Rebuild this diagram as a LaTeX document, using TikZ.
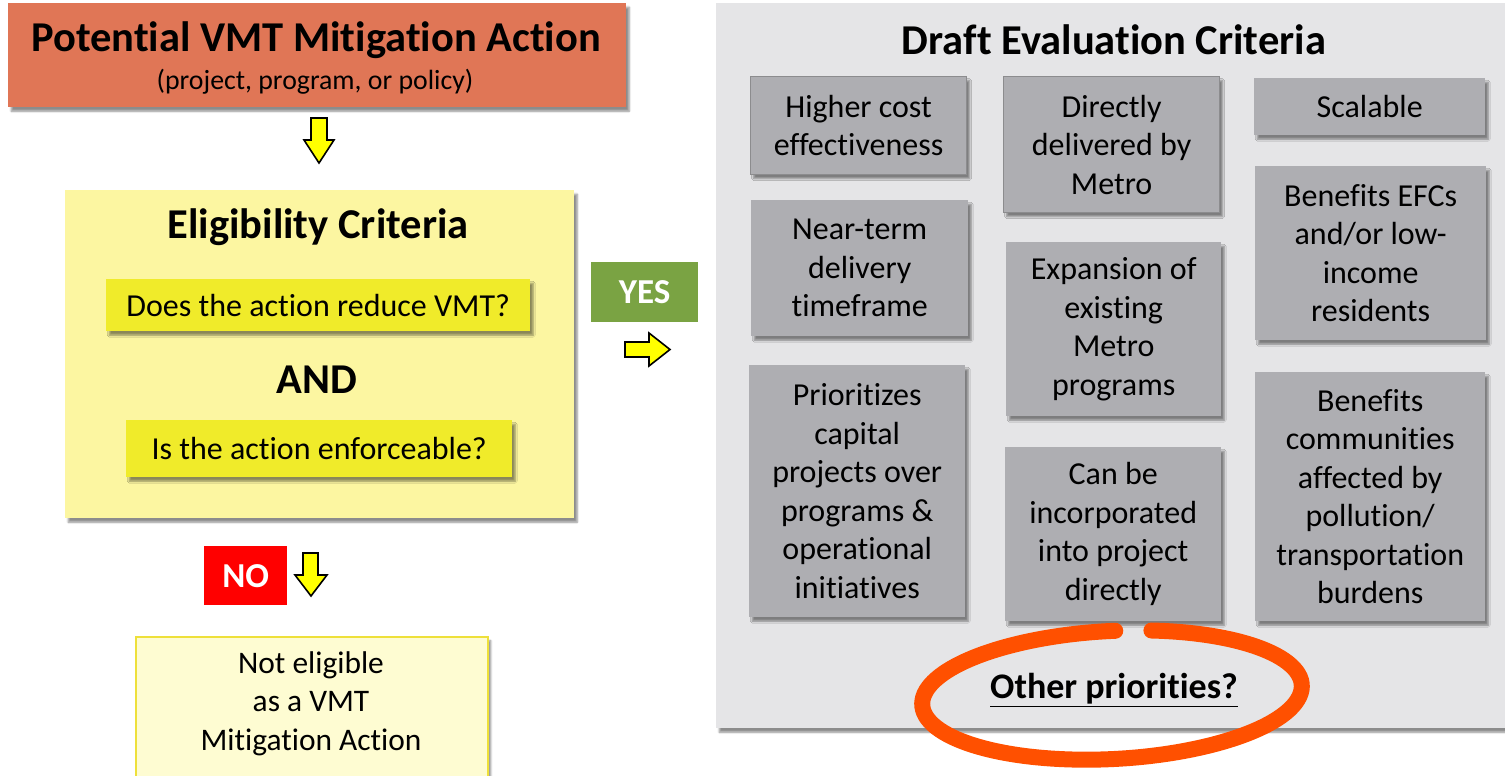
\documentclass[tikz,border=0pt]{standalone}
\usepackage{fontspec}
\setmainfont{Carlito}[Ligatures={NoCommon}]
\usetikzlibrary{shadows.blur}
\definecolor{titleor}{HTML}{E07656}
\definecolor{elig}{HTML}{FCF6A1}
\definecolor{qyel}{HTML}{F0EB2A}
\definecolor{noteli}{HTML}{FEFCD2}
\definecolor{notedge}{HTML}{EEE03A}
\definecolor{panel}{HTML}{E5E5E7}
\definecolor{boxgray}{HTML}{AEAEB2}
\definecolor{boxedge}{HTML}{8C8C8E}
\definecolor{yesgreen}{HTML}{7AA343}
\definecolor{nored}{HTML}{FF0000}
\definecolor{ring}{HTML}{FF5000}
\definecolor{arrowyel}{HTML}{FFFF00}
\tikzset{
  shad/.style={blur shadow={shadow xshift=3pt, shadow yshift=-4pt, shadow blur steps=6, shadow opacity=45}},
  corner/.style={anchor=north west, inner sep=0pt, align=center},
  gbox/.style={corner, fill=boxgray, shad, font=\fontsize{32}{38.5}\selectfont},
  gedge/.style={draw=boxedge, line width=1.2pt},
  yarrow/.style={fill=arrowyel, draw=black, line width=1.6pt, line join=miter},
  tag/.style={corner, text=white, font=\bfseries\fontsize{35}{40}\selectfont},
  head/.style={font=\bfseries\fontsize{42.5}{48}\selectfont},
  ringline/.style={draw=ring, line width=16pt, line cap=round},
}
\begin{document}
\begin{tikzpicture}[x=1pt,y=-1pt]
\useasboundingbox (0,0) rectangle (1505,776);
% left column
\node[corner, fill=titleor, shad, minimum width=618pt, minimum height=104pt] (act) at (8,3) {};
\node[head] (acttitle) at (316,40) {Potential VMT Mitigation Action};
\node[font=\fontsize{27.8}{32}\selectfont] (actsub) at (315,82) {(project, program, or policy)};
\draw[yarrow] (311,118) -- (327,118) -- (327,140) -- (334,140) -- (319,163) -- (304,140) -- (311,140) -- cycle;
\node[corner, fill=elig, shad, minimum width=509pt, minimum height=328pt] (elig) at (65,190) {};
\node[head] (eligtitle) at (318,227) {Eligibility Criteria};
\node[corner, fill=qyel, shad, minimum width=424pt, minimum height=52pt, font=\fontsize{32}{36}\selectfont] (q1) at (106,279) {Does the action reduce VMT?};
\node[head] (and) at (317,380) {AND};
\node[corner, fill=qyel, shad, minimum width=386pt, minimum height=57pt, font=\fontsize{32}{36}\selectfont] (q2) at (126,420) {Is the action enforceable?};
\node[tag, fill=nored, minimum width=83pt, minimum height=59pt] (no) at (204,546) {NO};
\draw[yarrow] (303,553) -- (318,553) -- (318,575) -- (327,575) -- (311,596) -- (295,575) -- (303,575) -- cycle;
\node[corner, fill=noteli, draw=notedge, line width=1.5pt, shad, minimum width=352pt, minimum height=150pt] (note) at (135,636) {};
\node[align=center, font=\fontsize{31.4}{38.5}\selectfont, anchor=north] (notetext) at (311,648) {Not eligible\\as a VMT\\Mitigation Action};
\node[tag, fill=yesgreen, minimum width=107pt, minimum height=60pt] (yes) at (591,262) {YES};
\draw[yarrow] (625,342) -- (649,342) -- (649,333) -- (670,349.5) -- (649,366) -- (649,357) -- (625,357) -- cycle;
% right panel
\node[corner, fill=panel, shad, minimum width=800pt, minimum height=725pt] (panel) at (716,3) {};
\node[head] (ptitle) at (1114,40) {Draft Evaluation Criteria};
\node[gbox, gedge, minimum width=216pt, minimum height=98pt] (c1) at (750,76) {Higher cost\\effectiveness};
\node[gbox, minimum width=217pt, minimum height=136pt] (c2) at (751,200) {Near-term\\delivery\\timeframe};
\node[gbox, minimum width=216pt, minimum height=252pt] (c3) at (749,365) {Prioritizes\\capital\\projects over\\programs \&\\operational\\initiatives};
\node[gbox, gedge, minimum width=216pt, minimum height=136pt] (d1) at (1003,76) {Directly\\delivered by\\Metro};
\node[gbox, minimum width=215pt, minimum height=174pt] (d2) at (1006,242) {Expansion of\\existing\\Metro\\programs};
\node[gbox, minimum width=216pt, minimum height=174pt] (d3) at (1005,447) {Can be\\incorporated\\into project\\directly};
\node[gbox, minimum width=231pt, minimum height=57pt] (e1) at (1254,78) {Scalable};
\node[gbox, minimum width=231pt, minimum height=174pt] (e2) at (1255,166) {Benefits EFCs\\and/or low-\\income\\residents};
\node[gbox, minimum width=230pt, minimum height=249pt] (e3) at (1255,372) {Benefits\\communities\\affected by\\pollution/\\transportation\\burdens};
\node[font=\bfseries\fontsize{36}{40}\selectfont] (other) at (1114,690) {\underline{Other priorities?}};
\draw[ringline, rotate around={3:(1112,695)}] (1112,695) ++(283:190 and 64) arc[start angle=283, end angle=632, x radius=190, y radius=64];
\end{tikzpicture}
\end{document}
